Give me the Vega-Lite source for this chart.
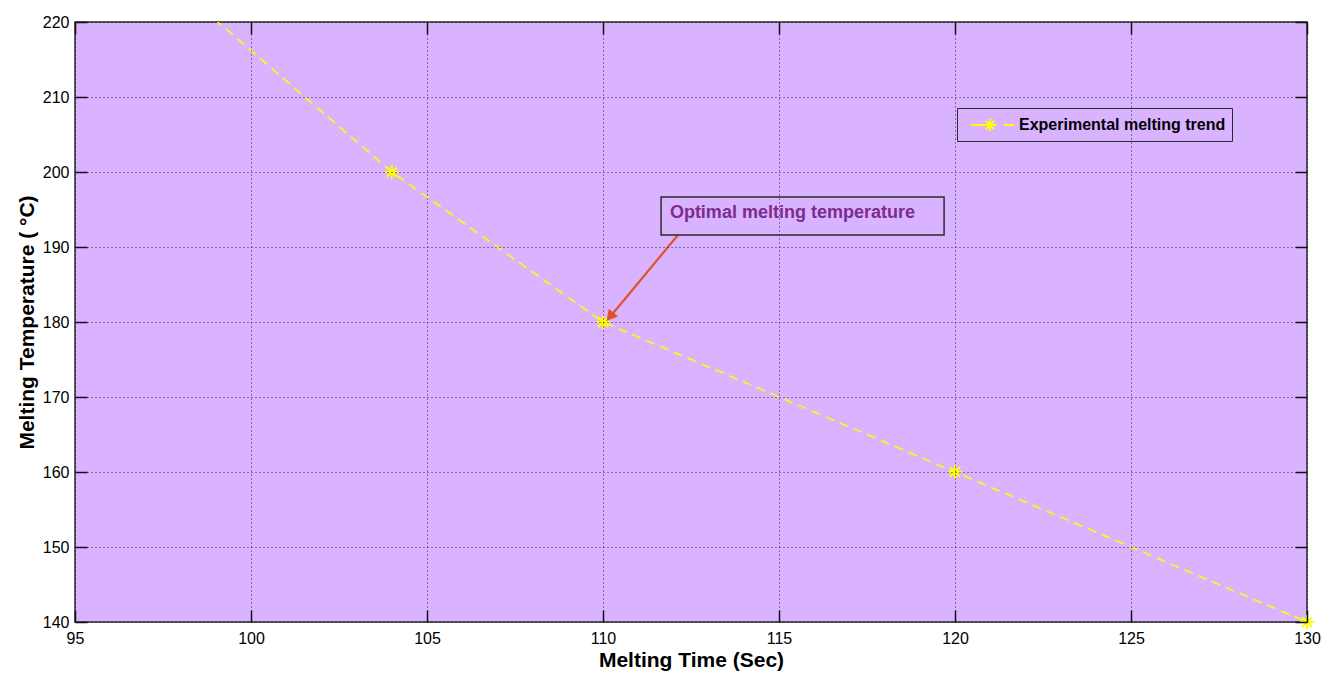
{
  "$schema": "https://vega.github.io/schema/vega-lite/v6.json",
  "width": 1232,
  "height": 600,
  "autosize": "none",
  "padding": {"left": 75, "top": 22, "right": 15, "bottom": 51},
  "background": "white",
  "config": {
    "view": {"fill": "#D9B3FF", "stroke": "#2b2b2b", "strokeWidth": 1.5},
    "axis": {
      "labelFont": "Liberation Sans", "labelFontSize": 16, "labelColor": "#000",
      "titleFont": "Liberation Sans", "titleFontSize": 21, "titleFontWeight": "bold", "titleColor": "#000",
      "tickColor": "#111", "domain": false,
      "gridColor": "#000", "gridDash": [1, 3], "gridOpacity": 0.8, "gridWidth": 1,
      "labelFlush": false, "labelBound": false, "labelOverlap": false
    },
    "legend": {
      "orient": "none", "legendX": 882, "legendY": 86, "padding": 6,
      "strokeColor": "#2b2b2b", "fillColor": "#D9B3FF",
      "labelFont": "Liberation Sans", "labelFontSize": 16, "labelFontWeight": "bold", "labelColor": "#000", "labelLimit": 0,
      "symbolType": "M-0.3,0L1.05,0M2.15,0L2.25,0M3.0,0L4.0,0M1.6,-0.6L1.6,0.6M1.0,0L2.2,0M1.18,-0.42L2.02,0.42M1.18,0.42L2.02,-0.42",
      "symbolSize": 400, "symbolStrokeWidth": 2, "symbolFillColor": "transparent", "symbolStrokeColor": "#FFFF00",
      "labelOffset": 34
    }
  },
  "datasets": {
    "trend": [
      {"time": 98, "temp": 224.3, "series": "Experimental melting trend"},
      {"time": 104, "temp": 200, "series": "Experimental melting trend"},
      {"time": 110, "temp": 180, "series": "Experimental melting trend"},
      {"time": 120, "temp": 160, "series": "Experimental melting trend"},
      {"time": 130, "temp": 140, "series": "Experimental melting trend"}
    ],
    "note": [
      {"time": 111.65, "time2": 119.69, "temp": 196.67, "temp2": 191.6, "label": "Optimal melting temperature", "ltime": 111.9, "ltemp": 194.5}
    ],
    "arrow": [
      {"time": 112.13, "temp": 191.6, "time2": 110.15, "temp2": 180.4, "htime": 110.2, "htemp": 180.7}
    ]
  },
  "layer": [
    {
      "data": {"name": "trend"},
      "mark": {"type": "line", "clip": true, "color": "#FFFF00", "strokeWidth": 1.6, "strokeDash": [9, 6]},
      "encoding": {
        "x": {"field": "time", "type": "quantitative", "scale": {"domain": [95, 130], "nice": false, "zero": false},
          "axis": {"values": [95, 100, 105, 110, 115, 120, 125, 130], "title": "Melting Time (Sec)", "offset": -12, "tickSize": 12, "tickWidth": 1.5, "labelPadding": 8, "titlePadding": 3, "grid": true, "zindex": 1}},
        "y": {"field": "temp", "type": "quantitative", "scale": {"domain": [140, 220], "nice": false, "zero": false},
          "axis": {"values": [140, 150, 160, 170, 180, 190, 200, 210, 220], "title": "Melting Temperature ( °C)", "offset": -12, "tickSize": 12, "tickWidth": 1.5, "labelPadding": 6, "titlePadding": 5, "grid": true, "zindex": 1}}
      }
    },
    {
      "data": {"name": "trend"},
      "transform": [{"filter": "datum.time >= 95"}],
      "mark": {"type": "point", "filled": false, "strokeWidth": 2, "size": 190, "opacity": 1,
        "shape": "M0,-1L0,1M-1,0L1,0M-0.7,-0.7L0.7,0.7M-0.7,0.7L0.7,-0.7"},
      "encoding": {
        "x": {"field": "time", "type": "quantitative", "axis": {"orient": "top", "values": [95, 100, 105, 110, 115, 120, 125, 130], "labels": false, "grid": false, "title": null, "offset": -12, "tickSize": 12, "tickWidth": 1.5, "zindex": 1}},
        "y": {"field": "temp", "type": "quantitative", "axis": {"orient": "right", "values": [140, 150, 160, 170, 180, 190, 200, 210, 220], "labels": false, "grid": false, "title": null, "offset": -12, "tickSize": 12, "tickWidth": 1.5, "zindex": 1}},
        "color": {"field": "series", "type": "nominal", "scale": {"range": ["#FFFF00"]}, "legend": {"title": null}}
      }
    },
    {
      "data": {"name": "arrow"},
      "mark": {"type": "rule", "color": "#E0522A", "strokeWidth": 2.2},
      "encoding": {
        "x": {"field": "time", "type": "quantitative", "axis": null},
        "y": {"field": "temp", "type": "quantitative", "axis": null},
        "x2": {"field": "time2"},
        "y2": {"field": "temp2"}
      }
    },
    {
      "data": {"name": "arrow"},
      "mark": {"type": "point", "shape": "triangle-up", "filled": true, "color": "#E0522A", "size": 150, "angle": 220, "opacity": 1},
      "encoding": {
        "x": {"field": "htime", "type": "quantitative", "axis": null},
        "y": {"field": "htemp", "type": "quantitative", "axis": null}
      }
    },
    {
      "data": {"name": "note"},
      "mark": {"type": "rect", "fill": null, "fillOpacity": 0, "stroke": "#2b2b2b", "strokeWidth": 1.5},
      "encoding": {
        "x": {"field": "time", "type": "quantitative", "axis": null},
        "x2": {"field": "time2"},
        "y": {"field": "temp", "type": "quantitative", "axis": null},
        "y2": {"field": "temp2"}
      }
    },
    {
      "data": {"name": "note"},
      "mark": {"type": "text", "align": "left", "baseline": "middle", "font": "Liberation Sans", "fontSize": 18, "fontWeight": "bold", "color": "#7B2C8C"},
      "encoding": {
        "x": {"field": "ltime", "type": "quantitative", "axis": null},
        "y": {"field": "ltemp", "type": "quantitative", "axis": null},
        "text": {"field": "label"}
      }
    }
  ],
  "resolve": {"axis": {"x": "independent", "y": "independent"}}
}
